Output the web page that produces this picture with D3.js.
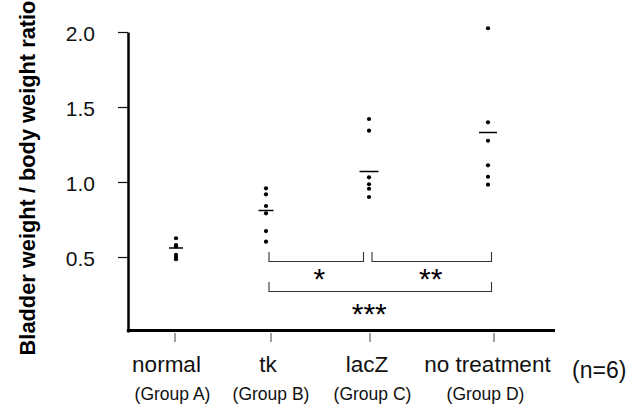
<!DOCTYPE html>
<html>
<head>
<meta charset="utf-8">
<script src="https://cdn.jsdelivr.net/npm/d3@7/dist/d3.min.js"></script>
<style>
  html, body { margin: 0; padding: 0; background: #fff; }
  svg { display: block; }
</style>
</head>
<body>
<svg id="chart" width="643" height="404"></svg>
<script>
// ---- data ----
const categories = ["normal", "tk", "lacZ", "no treatment"];
const groupLabels = ["(Group A)", "(Group B)", "(Group C)", "(Group D)"];
const valuesA = [0.625, 0.58, 0.57, 0.515, 0.50, 0.485];
const valuesB = [0.958, 0.918, 0.84, 0.791, 0.673, 0.602];
const valuesC = [1.42, 1.342, 1.031, 0.985, 0.955, 0.90];
const valuesD = [2.025, 1.398, 1.275, 1.111, 1.035, 0.982];
const means = [0.56, 0.81, 1.07, 1.33];
const yTicks = [0.5, 1.0, 1.5, 2.0];
const comparisons = [
  { from: "tk", to: "lacZ", label: "*" },
  { from: "lacZ", to: "no treatment", label: "**" },
  { from: "tk", to: "no treatment", label: "***" }
];
const sampleNote = "(n=6)";
const yTitle = "Bladder weight / body weight ratio";

// ---- layout ----
const svg = d3.select("#chart");
const series = [valuesA, valuesB, valuesC, valuesD];
const y = d3.scaleLinear().domain([0, 2]).range([332, 32]);
const tickX = d3.scaleOrdinal(categories, [175, 271, 370, 494]);
const dotX = d3.scaleOrdinal(categories, [176, 266, 369, 488]);
const labelX = d3.scaleOrdinal(categories, [166.5, 268, 367, 487.5]);
const groupX = d3.scaleOrdinal(categories, [172.5, 271, 372.5, 485.5]);
const meanHalf = d3.scaleOrdinal(categories, [7, 7.5, 9.5, 9]);
const rowTop = [252, 252, 282];
const rowLabelY = [289, 289, 324];
const labelDx = [3, -1, -11];
const axisX = 128, axisBottom = 330.5, axisRight = 555;

const sansFont = "'Liberation Sans', Arial, Helvetica, sans-serif";

// y axis
const yAxis = d3.axisLeft(y)
  .tickValues(yTicks)
  .tickFormat(d3.format(".1f"))
  .tickSizeInner(10)
  .tickSizeOuter(0)
  .tickPadding(23);
const gy = svg.append("g")
  .attr("transform", `translate(${axisX},0)`)
  .call(yAxis);
gy.select(".domain").attr("stroke", "#000").attr("stroke-width", 2.5);
gy.selectAll(".tick line").attr("stroke", "#111").attr("stroke-width", 1.2);
gy.selectAll(".tick text")
  .attr("font-family", sansFont)
  .attr("font-size", 21)
  .attr("fill", "#111")
  .attr("dy", "0.42em");

// x axis baseline
svg.append("line")
  .attr("x1", axisX - 1.2).attr("x2", axisRight)
  .attr("y1", axisBottom).attr("y2", axisBottom)
  .attr("stroke", "#000").attr("stroke-width", 3);

// category ticks
svg.append("g").selectAll("line")
  .data(categories)
  .join("line")
  .attr("x1", d => tickX(d)).attr("x2", d => tickX(d))
  .attr("y1", 333).attr("y2", 342)
  .attr("stroke", "#444").attr("stroke-width", 1);

// category labels
svg.append("g").selectAll("text")
  .data(categories)
  .join("text")
  .attr("x", d => labelX(d))
  .attr("y", 371.5)
  .attr("text-anchor", "middle")
  .attr("font-family", sansFont)
  .attr("font-size", 22.5)
  .attr("fill", "#111")
  .text(d => d);

svg.append("g").selectAll("text")
  .data(categories)
  .join("text")
  .attr("x", d => groupX(d))
  .attr("y", 400)
  .attr("text-anchor", "middle")
  .attr("font-family", sansFont)
  .attr("font-size", 17.5)
  .attr("fill", "#111")
  .text((d, i) => groupLabels[i]);

svg.append("text")
  .attr("x", 572)
  .attr("y", 378)
  .attr("font-family", sansFont)
  .attr("font-size", 23)
  .attr("fill", "#111")
  .text(sampleNote);

// y title
svg.append("text")
  .attr("transform", "translate(35,178) rotate(-90)")
  .attr("text-anchor", "middle")
  .attr("font-family", sansFont)
  .attr("font-weight", "bold")
  .attr("font-size", 21.8)
  .attr("fill", "#000")
  .text(yTitle);

// points
const pts = svg.append("g");
series.forEach((vals, i) => {
  const cat = categories[i];
  pts.selectAll(null)
    .data(vals)
    .join("circle")
    .attr("cx", dotX(cat))
    .attr("cy", d => y(d))
    .attr("r", 2.1)
    .attr("fill", "#000");
});

// mean lines
svg.append("g").selectAll("line")
  .data(means)
  .join("line")
  .attr("x1", (d, i) => dotX(categories[i]) - meanHalf(categories[i]))
  .attr("x2", (d, i) => dotX(categories[i]) + meanHalf(categories[i]))
  .attr("y1", d => y(d)).attr("y2", d => y(d))
  .attr("stroke", "#000").attr("stroke-width", 1.5);

// significance brackets
const lastCat = categories[categories.length - 1];
const br = svg.append("g");
comparisons.forEach((c, i) => {
  const x1 = dotX(c.from) + 3;
  const x2 = dotX(c.to) + (c.to === lastCat ? 3.5 : -5.5);
  const top = rowTop[i], bot = top + 9.5;
  br.append("path")
    .attr("d", `M${x1},${top}V${bot}H${x2}V${top}`)
    .attr("fill", "none")
    .attr("stroke", "#333")
    .attr("stroke-width", 1.1);
  br.append("text")
    .attr("x", (x1 + x2) / 2 + labelDx[i])
    .attr("y", rowLabelY[i])
    .attr("text-anchor", "middle")
    .attr("font-family", sansFont)
    .attr("font-size", 30)
    .attr("fill", "#000")
    .text(c.label);
});
</script>
</body>
</html>
